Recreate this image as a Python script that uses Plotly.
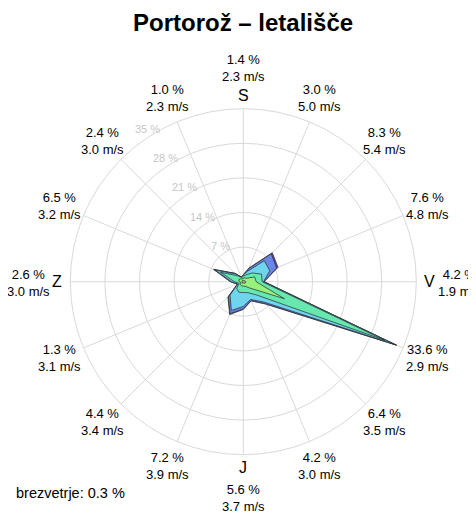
import plotly.graph_objects as go
import math

# Direction categories (clockwise from north)
directions = ["N", "NNE", "NE", "ENE", "E", "ESE", "SE", "SSE",
              "S", "SSW", "SW", "WSW", "W", "WNW", "NW", "NNW"]

# Frequency (%) per speed class, per direction
cls1 = [0.3, 0.3, 0.3, 0.4, 0.5, 0.5, 0.4, 0.3, 0.3, 0.3, 0.3, 0.2, 0.3, 0.3, 0.3, 0.2]
cls2 = [0.4, 0.5, 0.7, 2.1, 2.1, 8.5, 1.4, 0.7, 0.6, 0.6, 0.5, 0.3, 0.5, 0.7, 0.5, 0.4]
cls3 = [0.4, 0.7, 1.5, 1.5, 1.2, 22.0, 2.0, 1.4, 1.3, 1.4, 1.1, 0.4, 1.0, 4.0, 0.9, 0.3]
cls4 = [0.25, 0.8, 3.5, 1.8, 0.3, 2.1, 2.0, 1.5, 2.8, 4.0, 1.9, 0.3, 0.6, 1.2, 0.5, 0.1]
cls5 = [0.05, 0.6, 2.0, 1.5, 0.1, 0.4, 0.5, 0.25, 0.5, 0.7, 0.5, 0.1, 0.2, 0.25, 0.2, 0.0]
cls6 = [0.0, 0.1, 0.3, 0.3, 0.0, 0.1, 0.1, 0.05, 0.1, 0.2, 0.1, 0.0, 0.0, 0.05, 0.0, 0.0]

# Labels shown around the rose
pct_labels = ["1.4", "3.0", "8.3", "7.6", "4.2", "33.6", "6.4", "4.2",
              "5.6", "7.2", "4.4", "1.3", "2.6", "6.5", "2.4", "1.0"]
speed_labels = ["2.3", "5.0", "5.4", "4.8", "1.9", "2.9", "3.5", "3.0",
                "3.7", "3.9", "3.4", "3.1", "3.0", "3.2", "3.0", "2.3"]
cardinal_labels = {"N": "S", "E": "V", "S": "J", "W": "Z"}
radial_ticks = [7, 14, 21, 28, 35]
calm_pct = "0.3"

classes = [cls1, cls2, cls3, cls4, cls5, cls6]
colors = ["#a9a9a9", "#9af07c", "#66e8ae", "#6fd5ee", "#6c86e6", "#6a40c8"]
names = ["< 1.5 m/s", "1.5–3 m/s", "3–5 m/s", "5–8 m/s", "8–11 m/s", "> 11 m/s"]

# cumulative stacks
cum = []
run = [0.0] * len(directions)
for c in classes:
    run = [a + b for a, b in zip(run, c)]
    cum.append(run)

fig = go.Figure()
for k in range(len(classes) - 1, -1, -1):
    r = cum[k] + [cum[k][0]]
    th = directions + [directions[0]]
    fig.add_trace(go.Scatterpolar(
        r=r, theta=th, mode="lines", fill="toself",
        fillcolor=colors[k], name=names[k],
        line=dict(color="#2a2a2a", width=0.7),
        hoverinfo="skip", showlegend=False))

# page body has an 8px margin: work in page pixels, convert to figure pixels
OFF = 8
W, H = 476 - OFF, 515 - OFF
cx, cy, R = 243.3 - OFF, 281.7 - OFF, 173.0
RMAX = radial_ticks[-1]


def px(x):
    return (x - OFF) / W


def py(y):
    return 1 - (y - OFF) / H


fig.update_layout(
    width=W, height=H, margin=dict(l=0, r=0, t=0, b=0),
    paper_bgcolor="white", plot_bgcolor="white", showlegend=False,
    font=dict(family="Liberation Sans, Arial, sans-serif", color="black"),
    polar=dict(
        domain=dict(x=[(cx - R) / W, (cx + R) / W],
                    y=[(H - cy - R) / H, (H - cy + R) / H]),
        bgcolor="white",
        angularaxis=dict(type="category", categoryarray=directions,
                         rotation=90, direction="clockwise",
                         showticklabels=False, ticks="",
                         showgrid=True, gridcolor="#d9d9d9", gridwidth=1,
                         showline=True, linecolor="#d9d9d9", linewidth=1),
        radialaxis=dict(range=[0, RMAX], tickvals=radial_ticks,
                        showticklabels=False, ticks="",
                        angle=112.5, showline=False, showgrid=True,
                        gridcolor="#d9d9d9", gridwidth=1),
    ),
)

CX, CY = 243.3, 281.7  # page coords of the rose centre
ann = []
ann.append(dict(text="<b>Portorož – letališče</b>", x=px(243), y=py(22),
                xref="paper", yref="paper", showarrow=False,
                xanchor="center", yanchor="middle",
                font=dict(size=24, color="black")))

# radial tick labels (horizontal, light gray), along a ray at ~32 deg west of north
ta = math.radians(32)
for t in radial_ticks:
    d = t / RMAX * R + 7.5
    lx = CX - d * math.sin(ta)
    ly = CY - d * math.cos(ta)
    ann.append(dict(text=f"{t} %", x=px(lx), y=py(ly),
                    xref="paper", yref="paper", showarrow=False,
                    xanchor="center", yanchor="middle",
                    font=dict(size=11, color="#c6c6c6")))

for i, d in enumerate(directions):
    ang = math.radians(i * 22.5)
    txt = f"{pct_labels[i]} %<br>{speed_labels[i]} m/s"
    if d in cardinal_labels:
        rc = 186
        cxp = CX + rc * math.sin(ang)
        cyp = CY - rc * math.cos(ang)
        ann.append(dict(text=cardinal_labels[d], x=px(cxp), y=py(cyp),
                        xref="paper", yref="paper", showarrow=False,
                        xanchor="center", yanchor="middle",
                        font=dict(size=16, color="black")))
        if d == "N":
            lx, ly = CX, 68
        elif d == "S":
            lx, ly = CX, 498
        elif d == "E":
            lx, ly = 459, 283
        else:
            lx, ly = 28, 283
    else:
        rl = 199
        lx = CX + rl * math.sin(ang)
        ly = CY - rl * math.cos(ang)
    ann.append(dict(text=txt, x=px(lx), y=py(ly),
                    xref="paper", yref="paper", showarrow=False,
                    xanchor="center", yanchor="middle",
                    font=dict(size=13, color="black")))

ann.append(dict(text=f"brezvetrje: {calm_pct} %", x=px(14), y=py(493),
                xref="paper", yref="paper", showarrow=False,
                xanchor="left", yanchor="middle",
                font=dict(size=14.5, color="black")))

fig.update_layout(annotations=ann)
fig.write_html("out.html")
